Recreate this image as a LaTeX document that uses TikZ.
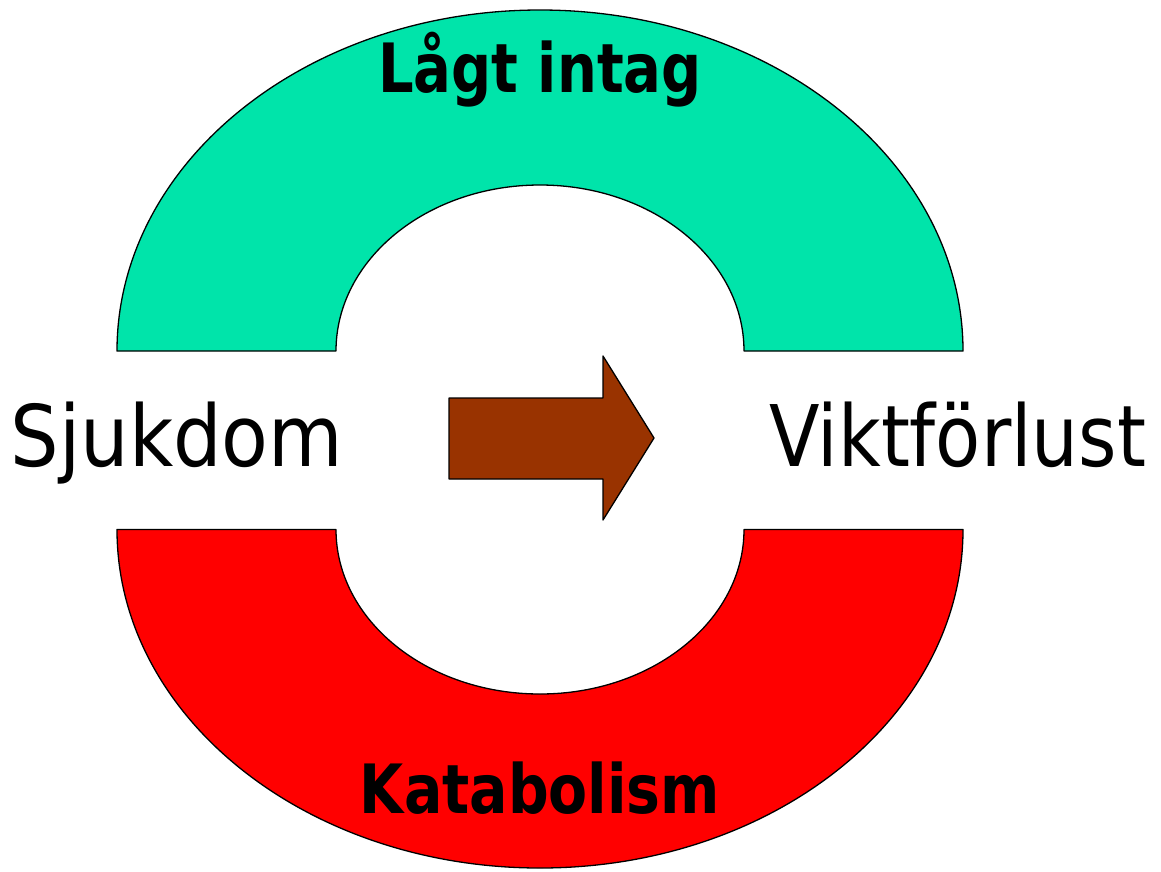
\documentclass[tikz,border=0pt]{standalone}
\usepackage{fontspec}
\usepackage{graphicx}
\setmainfont{DejaVu Sans Condensed}
\definecolor{ringgreen}{RGB}{0,228,170}
\definecolor{ringred}{RGB}{255,0,0}
\definecolor{arrowbrown}{RGB}{153,51,0}
\tikzset{
  ring/.style={draw=black, line width=1.3pt, line join=round},
  bigtext/.style={font=\fontsize{85}{90}\selectfont, inner sep=0pt, anchor=base},
  boldtext/.style={font=\fontsize{68}{72}\selectfont\bfseries, inner sep=0pt, anchor=base},
}
\begin{document}
\begin{tikzpicture}[x=1pt,y=-1pt]
\useasboundingbox (0,0) rectangle (1161,871);
% top ring
\path[ring, fill=ringgreen] (117,351) arc[start angle=180, end angle=360, x radius=423, y radius=341]
  -- (744,351) arc[start angle=0, end angle=-180, x radius=204, y radius=166] -- cycle;
% bottom ring
\path[ring, fill=ringred] (117,529.5) arc[start angle=180, end angle=0, x radius=423, y radius=338.5]
  -- (744,529.5) arc[start angle=0, end angle=180, x radius=204, y radius=164.5] -- cycle;
% arrow
\path[ring, fill=arrowbrown] (449,398) -- (603,398) -- (603,356) -- (654,438) -- (603,520) -- (603,479) -- (449,479) -- cycle;
% texts
\node[boldtext] (top) at (540,92) {\scalebox{0.915}[1]{Lågt intag}};
\node[boldtext] (bottom) at (540,813) {\scalebox{0.93}[1]{Katabolism}};
\node[bigtext] (left) at (177,466) {Sjukdom};
\node[bigtext] (right) at (957.5,466) {\scalebox{0.965}[1]{Viktförlust}};
\end{tikzpicture}
\end{document}
